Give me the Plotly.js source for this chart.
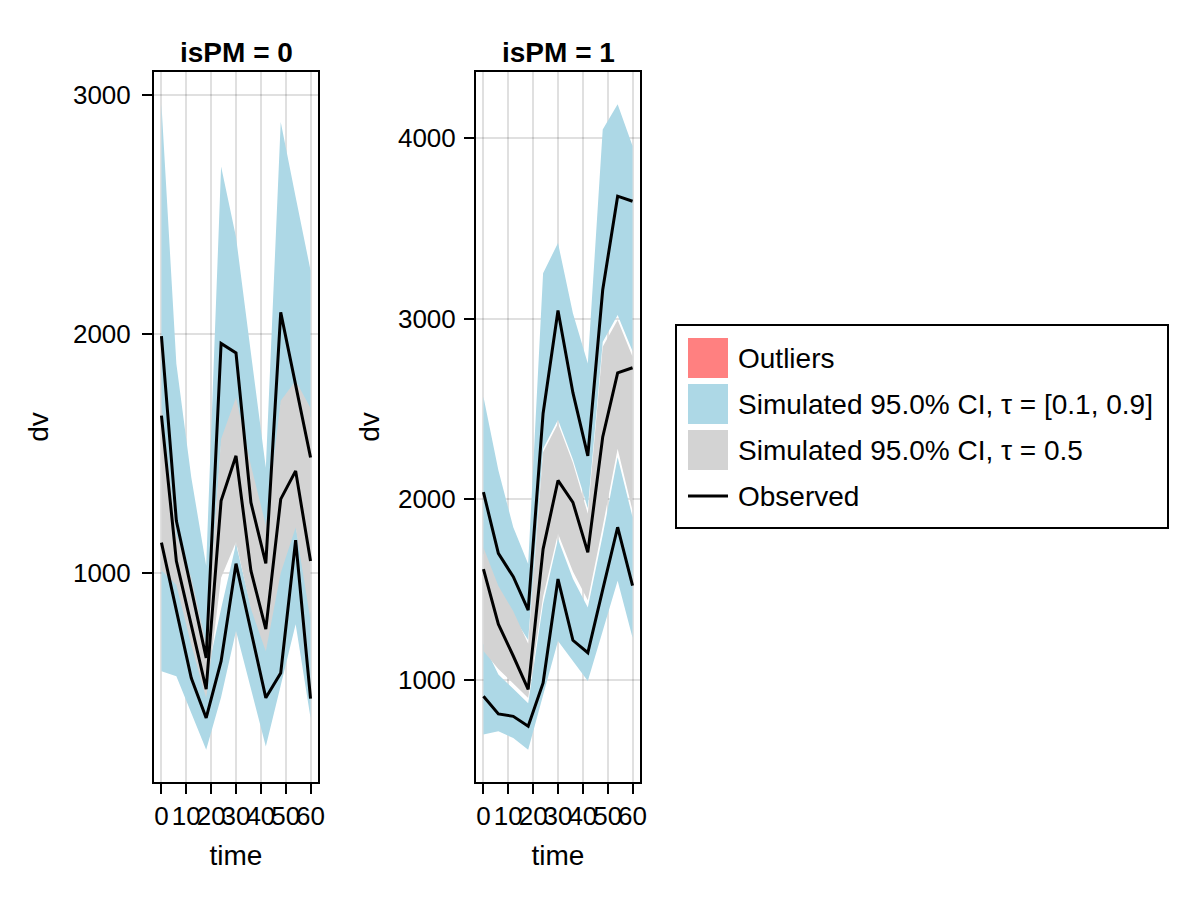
<!DOCTYPE html>
<html><head><meta charset="utf-8">
<script src="https://cdn.plot.ly/plotly-3.0.1.min.js"></script>
<style>html,body{margin:0;padding:0;background:#fff}#chart{width:1200px;height:900px}</style>
</head><body><div id="chart"></div>
<script>
// ---------- data ----------
const time = [0, 6, 12, 18, 24, 30, 36, 42, 48, 54, 60];
const xTicks = [0, 10, 20, 30, 40, 50, 60];

// isPM = 0 : observed percentile lines
const obsHi0  = [1990, 1218, 933, 645, 1960, 1920, 1295, 1040, 2090, 1786, 1483];
const obsMed0 = [1658, 1050, 782, 514, 1302, 1490, 1010, 765, 1309, 1427, 1050];
const obsLo0  = [1127, 844, 561, 394, 631, 1039, 757, 478, 582, 1137, 475];
// isPM = 0 : simulated CI bands
const hiTop0  = [2960, 1875, 1400, 1030, 2700, 2405, 1920, 1440, 2886, 2572, 2265];
const hiBot0  = [1650, 1150, 950, 690, 1540, 1700, 1420, 1150, 1700, 1780, 1650];
const medTop0 = [1700, 1160, 980, 700, 1560, 1734, 1450, 1200, 1720, 1804, 1690];
const medBot0 = [1010, 950, 700, 476, 980, 1130, 850, 673, 1000, 1190, 800];
const loTop0  = [1050, 980, 720, 560, 850, 1121, 860, 700, 1030, 1200, 830];
const loBot0  = [589, 568, 415, 261, 480, 757, 516, 275, 530, 786, 394];

// isPM = 1 : observed percentile lines
const obsHi1  = [2039, 1700, 1571, 1386, 2475, 3045, 2590, 2240, 3160, 3678, 3650];
const obsMed1 = [1613, 1308, 1132, 947, 1724, 2104, 1983, 1706, 2345, 2700, 2728];
const obsLo1  = [909, 811, 798, 743, 983, 1558, 1219, 1150, 1500, 1845, 1521];
// isPM = 1 : simulated CI bands
const hiTop1  = [2567, 2160, 1845, 1641, 3252, 3419, 3030, 2752, 4048, 4187, 3956];
const hiBot1  = [1700, 1500, 1350, 1220, 2280, 2440, 2220, 1950, 2870, 3020, 2820];
const medTop1 = [1733, 1520, 1380, 1200, 2260, 2419, 2200, 1920, 2845, 2993, 2789];
const medBot1 = [1159, 1060, 980, 900, 1460, 1810, 1600, 1440, 1850, 2280, 1937];
const loTop1  = [1200, 1030, 950, 870, 1420, 1780, 1560, 1400, 1800, 2233, 1900];
const loBot1  = [697, 715, 678, 613, 915, 1215, 1104, 993, 1270, 1548, 1233];

const panelTitles = ["isPM = 0", "isPM = 1"];
const legendLabels = ["Outliers", "Simulated 95.0% CI, \u03c4 = [0.1, 0.9]", "Simulated 95.0% CI, \u03c4 = 0.5", "Observed"];

// ---------- styling ----------
const BLUE = "#add8e6", GREY = "#d3d3d3", PINK = "#ff8080";
const FONT = "Liberation Sans, Arial, sans-serif";
const W = 1200, H = 900;
const px = v => v / W, py = v => 1 - v / H;

function band(top, bot, color, xa, ya) {
  return {type: "scatter", mode: "none", x: time.concat(time.slice().reverse()),
    y: top.concat(bot.slice().reverse()), fill: "toself", fillcolor: color,
    line: {width: 0}, hoverinfo: "skip", showlegend: false, xaxis: xa, yaxis: ya};
}
function obsLine(y, xa, ya) {
  return {type: "scatter", mode: "lines", x: time, y: y, line: {color: "black", width: 3},
    showlegend: false, xaxis: xa, yaxis: ya};
}
function autoRange(arrs) {
  const all = [].concat(...arrs);
  const mn = Math.min(...all), mx = Math.max(...all), s = mx - mn;
  return [mn - 0.05 * s, mx + 0.05 * s];
}

const traces = [
  band(hiTop0, hiBot0, BLUE, "x", "y"),
  band(loTop0, loBot0, BLUE, "x", "y"),
  band(medTop0, medBot0, GREY, "x", "y"),
  obsLine(obsHi0, "x", "y"), obsLine(obsMed0, "x", "y"), obsLine(obsLo0, "x", "y"),
  band(hiTop1, hiBot1, BLUE, "x2", "y2"),
  band(loTop1, loBot1, BLUE, "x2", "y2"),
  band(medTop1, medBot1, GREY, "x2", "y2"),
  obsLine(obsHi1, "x2", "y2"), obsLine(obsMed1, "x2", "y2"), obsLine(obsLo1, "x2", "y2")
];

function xAxis(d0, d1, anchor) {
  return {domain: [px(d0), px(d1)], anchor: anchor, range: [-3, 63], tickmode: "array", tickvals: xTicks,
    ticktext: xTicks.map(String), tickangle: 0, ticks: "outside", ticklen: 10, tickwidth: 2, tickcolor: "black",
    showline: true, mirror: true, linewidth: 2, linecolor: "black", showgrid: true,
    gridcolor: "rgba(0,0,0,0.12)", gridwidth: 2, zeroline: false,
    tickfont: {family: FONT, size: 26, color: "black"},
    title: {text: "time", font: {family: FONT, size: 28, color: "black"}, standoff: 15}};
}
function yAxis(anchor, rng, ticks, lblOff, ttlOff) {
  return {domain: [py(782), py(72)], anchor: anchor, range: rng, tickmode: "array", tickvals: ticks,
    ticktext: ticks.map(String), ticks: "outside", ticklen: 10, tickwidth: 2, tickcolor: "black",
    ticklabelstandoff: lblOff,
    showline: true, mirror: true, linewidth: 2, linecolor: "black", showgrid: true,
    gridcolor: "rgba(0,0,0,0.12)", gridwidth: 2, zeroline: false,
    tickfont: {family: FONT, size: 26, color: "black"},
    title: {text: "dv", font: {family: FONT, size: 28, color: "black"}, standoff: ttlOff}};
}

const shapes = [
  {type: "rect", xref: "paper", yref: "paper", x0: px(676), x1: px(1168), y0: py(528), y1: py(325),
    line: {color: "black", width: 2}, fillcolor: "white"},
  {type: "rect", xref: "paper", yref: "paper", x0: px(688), x1: px(728), y0: py(378), y1: py(338),
    line: {width: 0}, fillcolor: PINK},
  {type: "rect", xref: "paper", yref: "paper", x0: px(688), x1: px(728), y0: py(424), y1: py(384),
    line: {width: 0}, fillcolor: BLUE},
  {type: "rect", xref: "paper", yref: "paper", x0: px(688), x1: px(728), y0: py(470), y1: py(430),
    line: {width: 0}, fillcolor: GREY},
  {type: "line", xref: "paper", yref: "paper", x0: px(688), x1: px(728), y0: py(496), y1: py(496),
    line: {color: "black", width: 3}}
];
const legendY = [358, 404, 450, 496];
const annotations = legendLabels.map((t, i) => ({text: t, xref: "paper", yref: "paper",
  x: px(736), y: py(legendY[i]), xanchor: "left", yanchor: "middle", showarrow: false,
  font: {family: FONT, size: 28, color: "black"}}));
annotations.push({text: "<b>" + panelTitles[0] + "</b>", xref: "paper", yref: "paper", x: px(236), y: py(52),
  xanchor: "center", yanchor: "middle", showarrow: false, font: {family: FONT, size: 28, color: "black"}});
annotations.push({text: "<b>" + panelTitles[1] + "</b>", xref: "paper", yref: "paper", x: px(558), y: py(52),
  xanchor: "center", yanchor: "middle", showarrow: false, font: {family: FONT, size: 28, color: "black"}});

const layout = {
  width: W, height: H, margin: {l: 0, r: 0, t: 0, b: 0}, paper_bgcolor: "white", plot_bgcolor: "white",
  showlegend: false, font: {family: FONT, color: "black"},
  xaxis: xAxis(154, 318, "y"),
  yaxis: yAxis("x", autoRange([hiTop0, hiBot0, medTop0, medBot0, loTop0, loBot0]), [1000, 2000, 3000], 6, 16),
  xaxis2: xAxis(476, 640, "y2"),
  yaxis2: yAxis("x2", autoRange([hiTop1, hiBot1, medTop1, medBot1, loTop1, loBot1]), [1000, 2000, 3000, 4000], 3, 10),
  shapes: shapes, annotations: annotations
};
Plotly.newPlot("chart", traces, layout, {staticPlot: true, displayModeBar: false});
</script></body></html>
